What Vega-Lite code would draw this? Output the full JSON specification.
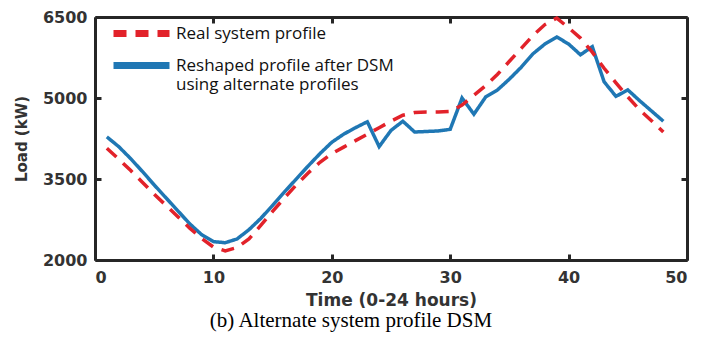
{
  "$schema": "https://vega.github.io/schema/vega-lite/v6.json",
  "width": 592,
  "height": 243,
  "autosize": "none",
  "padding": {"left": 95, "top": 17, "right": 26, "bottom": 78},
  "background": "white",
  "config": {
    "view": {"stroke": null},
    "axis": {
      "grid": false,
      "labelFont": "DejaVu Sans",
      "labelFontWeight": "bold",
      "labelFontSize": 16,
      "labelColor": "#333333",
      "domainColor": "#262626",
      "domainWidth": 3,
      "tickColor": "#262626",
      "tickWidth": 3,
      "tickSize": -6,
      "format": "d",
      "titleFont": "DejaVu Sans",
      "titleFontWeight": "bold",
      "titleColor": "#333333"
    },
    "legend": {
      "orient": "none",
      "legendX": 29,
      "legendY": -1,
      "title": null,
      "symbolType": "M-2,0H2",
      "symbolSize": 784,
      "symbolStrokeWidth": 7,
      "labelFont": "Open Sans",
      "labelFontSize": 17,
      "labelColor": "#111111",
      "labelOffset": 17,
      "labelLimit": 400,
      "rowPadding": -3
    }
  },
  "title": {
    "text": "(b) Alternate system profile DSM",
    "orient": "bottom",
    "font": "Liberation Serif",
    "fontSize": 21,
    "fontWeight": "normal",
    "color": "#000000",
    "dx": -40,
    "offset": 2
  },
  "data": {
    "values": [
      {"t": 1, "series": "Real system profile", "load": 4070},
      {"t": 2, "series": "Real system profile", "load": 3870},
      {"t": 3, "series": "Real system profile", "load": 3660},
      {"t": 4, "series": "Real system profile", "load": 3440},
      {"t": 5, "series": "Real system profile", "load": 3220},
      {"t": 6, "series": "Real system profile", "load": 3010},
      {"t": 7, "series": "Real system profile", "load": 2800},
      {"t": 8, "series": "Real system profile", "load": 2590},
      {"t": 9, "series": "Real system profile", "load": 2400},
      {"t": 10, "series": "Real system profile", "load": 2240},
      {"t": 11, "series": "Real system profile", "load": 2170},
      {"t": 12, "series": "Real system profile", "load": 2230},
      {"t": 13, "series": "Real system profile", "load": 2390},
      {"t": 14, "series": "Real system profile", "load": 2640},
      {"t": 15, "series": "Real system profile", "load": 2900},
      {"t": 16, "series": "Real system profile", "load": 3150},
      {"t": 17, "series": "Real system profile", "load": 3390},
      {"t": 18, "series": "Real system profile", "load": 3610},
      {"t": 19, "series": "Real system profile", "load": 3810},
      {"t": 20, "series": "Real system profile", "load": 3970},
      {"t": 21, "series": "Real system profile", "load": 4090},
      {"t": 22, "series": "Real system profile", "load": 4210},
      {"t": 23, "series": "Real system profile", "load": 4330},
      {"t": 24, "series": "Real system profile", "load": 4450},
      {"t": 25, "series": "Real system profile", "load": 4570},
      {"t": 26, "series": "Real system profile", "load": 4680},
      {"t": 27, "series": "Real system profile", "load": 4730},
      {"t": 28, "series": "Real system profile", "load": 4740},
      {"t": 29, "series": "Real system profile", "load": 4740},
      {"t": 30, "series": "Real system profile", "load": 4750},
      {"t": 31, "series": "Real system profile", "load": 4870},
      {"t": 32, "series": "Real system profile", "load": 5050},
      {"t": 33, "series": "Real system profile", "load": 5230},
      {"t": 34, "series": "Real system profile", "load": 5440},
      {"t": 35, "series": "Real system profile", "load": 5680},
      {"t": 36, "series": "Real system profile", "load": 5920},
      {"t": 37, "series": "Real system profile", "load": 6160},
      {"t": 38, "series": "Real system profile", "load": 6360},
      {"t": 39, "series": "Real system profile", "load": 6480},
      {"t": 40, "series": "Real system profile", "load": 6300},
      {"t": 41, "series": "Real system profile", "load": 6110},
      {"t": 42, "series": "Real system profile", "load": 5850},
      {"t": 43, "series": "Real system profile", "load": 5550},
      {"t": 44, "series": "Real system profile", "load": 5280},
      {"t": 45, "series": "Real system profile", "load": 5020},
      {"t": 46, "series": "Real system profile", "load": 4780},
      {"t": 47, "series": "Real system profile", "load": 4580},
      {"t": 48, "series": "Real system profile", "load": 4370},
      {"t": 1, "series": "Reshaped profile after DSM", "load": 4280},
      {"t": 2, "series": "Reshaped profile after DSM", "load": 4100},
      {"t": 3, "series": "Reshaped profile after DSM", "load": 3880},
      {"t": 4, "series": "Reshaped profile after DSM", "load": 3640},
      {"t": 5, "series": "Reshaped profile after DSM", "load": 3390},
      {"t": 6, "series": "Reshaped profile after DSM", "load": 3150},
      {"t": 7, "series": "Reshaped profile after DSM", "load": 2910},
      {"t": 8, "series": "Reshaped profile after DSM", "load": 2670},
      {"t": 9, "series": "Reshaped profile after DSM", "load": 2470},
      {"t": 10, "series": "Reshaped profile after DSM", "load": 2340},
      {"t": 11, "series": "Reshaped profile after DSM", "load": 2320},
      {"t": 12, "series": "Reshaped profile after DSM", "load": 2390},
      {"t": 13, "series": "Reshaped profile after DSM", "load": 2560},
      {"t": 14, "series": "Reshaped profile after DSM", "load": 2770},
      {"t": 15, "series": "Reshaped profile after DSM", "load": 3010},
      {"t": 16, "series": "Reshaped profile after DSM", "load": 3260},
      {"t": 17, "series": "Reshaped profile after DSM", "load": 3500},
      {"t": 18, "series": "Reshaped profile after DSM", "load": 3740},
      {"t": 19, "series": "Reshaped profile after DSM", "load": 3970},
      {"t": 20, "series": "Reshaped profile after DSM", "load": 4180},
      {"t": 21, "series": "Reshaped profile after DSM", "load": 4330},
      {"t": 22, "series": "Reshaped profile after DSM", "load": 4450},
      {"t": 23, "series": "Reshaped profile after DSM", "load": 4560},
      {"t": 24, "series": "Reshaped profile after DSM", "load": 4100},
      {"t": 25, "series": "Reshaped profile after DSM", "load": 4400},
      {"t": 26, "series": "Reshaped profile after DSM", "load": 4570},
      {"t": 27, "series": "Reshaped profile after DSM", "load": 4370},
      {"t": 28, "series": "Reshaped profile after DSM", "load": 4380},
      {"t": 29, "series": "Reshaped profile after DSM", "load": 4390},
      {"t": 30, "series": "Reshaped profile after DSM", "load": 4420},
      {"t": 31, "series": "Reshaped profile after DSM", "load": 5000},
      {"t": 32, "series": "Reshaped profile after DSM", "load": 4700},
      {"t": 33, "series": "Reshaped profile after DSM", "load": 5020},
      {"t": 34, "series": "Reshaped profile after DSM", "load": 5150},
      {"t": 35, "series": "Reshaped profile after DSM", "load": 5350},
      {"t": 36, "series": "Reshaped profile after DSM", "load": 5570},
      {"t": 37, "series": "Reshaped profile after DSM", "load": 5820},
      {"t": 38, "series": "Reshaped profile after DSM", "load": 6000},
      {"t": 39, "series": "Reshaped profile after DSM", "load": 6130},
      {"t": 40, "series": "Reshaped profile after DSM", "load": 6000},
      {"t": 41, "series": "Reshaped profile after DSM", "load": 5800},
      {"t": 42, "series": "Reshaped profile after DSM", "load": 5950},
      {"t": 43, "series": "Reshaped profile after DSM", "load": 5300},
      {"t": 44, "series": "Reshaped profile after DSM", "load": 5030},
      {"t": 45, "series": "Reshaped profile after DSM", "load": 5150},
      {"t": 46, "series": "Reshaped profile after DSM", "load": 4950},
      {"t": 47, "series": "Reshaped profile after DSM", "load": 4760},
      {"t": 48, "series": "Reshaped profile after DSM", "load": 4570}
    ]
  },
  "layer": [
    {
      "transform": [{"filter": "datum.series == 'Reshaped profile after DSM'"}],
      "mark": {"type": "line", "strokeWidth": 3.5},
      "encoding": {
        "x": {
          "field": "t", "type": "quantitative",
          "scale": {"domain": [0, 50], "nice": false},
          "axis": {"orient": "bottom", "values": [0, 10, 20, 30, 40, 50], "labelPadding": 15, "title": "Time (0-24 hours)", "titleFontSize": 17, "titlePadding": 7}
        },
        "y": {
          "field": "load", "type": "quantitative",
          "scale": {"domain": [2000, 6500], "nice": false, "zero": false},
          "axis": {"orient": "left", "values": [2000, 3500, 5000, 6500], "labelPadding": 14, "title": "Load (kW)", "titleFontSize": 15, "titlePadding": 13}
        },
        "color": {
          "field": "series", "type": "nominal",
          "scale": {"domain": ["Real system profile", "Reshaped profile after DSM"], "range": ["#e2222a", "#1f77b4"]},
          "legend": {
            "labelExpr": "datum.label == 'Reshaped profile after DSM' ? ['Reshaped profile after DSM', 'using alternate profiles'] : datum.label"
          }
        },
        "strokeDash": {
          "field": "series", "type": "nominal",
          "scale": {"domain": ["Real system profile", "Reshaped profile after DSM"], "range": [[13, 9], [1, 0]]},
          "legend": {
            "labelExpr": "datum.label == 'Reshaped profile after DSM' ? ['Reshaped profile after DSM', 'using alternate profiles'] : datum.label"
          }
        }
      }
    },
    {
      "transform": [{"filter": "datum.series == 'Real system profile'"}],
      "mark": {"type": "line", "strokeWidth": 3.5},
      "encoding": {
        "x": {
          "field": "t", "type": "quantitative",
          "axis": {"orient": "top", "values": [0, 10, 20, 30, 40, 50], "labels": false, "title": null}
        },
        "y": {
          "field": "load", "type": "quantitative",
          "axis": {"orient": "right", "values": [2000, 3500, 5000, 6500], "labels": false, "title": null}
        },
        "color": {"field": "series", "type": "nominal"},
        "strokeDash": {"field": "series", "type": "nominal"}
      }
    }
  ],
  "resolve": {"axis": {"x": "independent", "y": "independent"}}
}
